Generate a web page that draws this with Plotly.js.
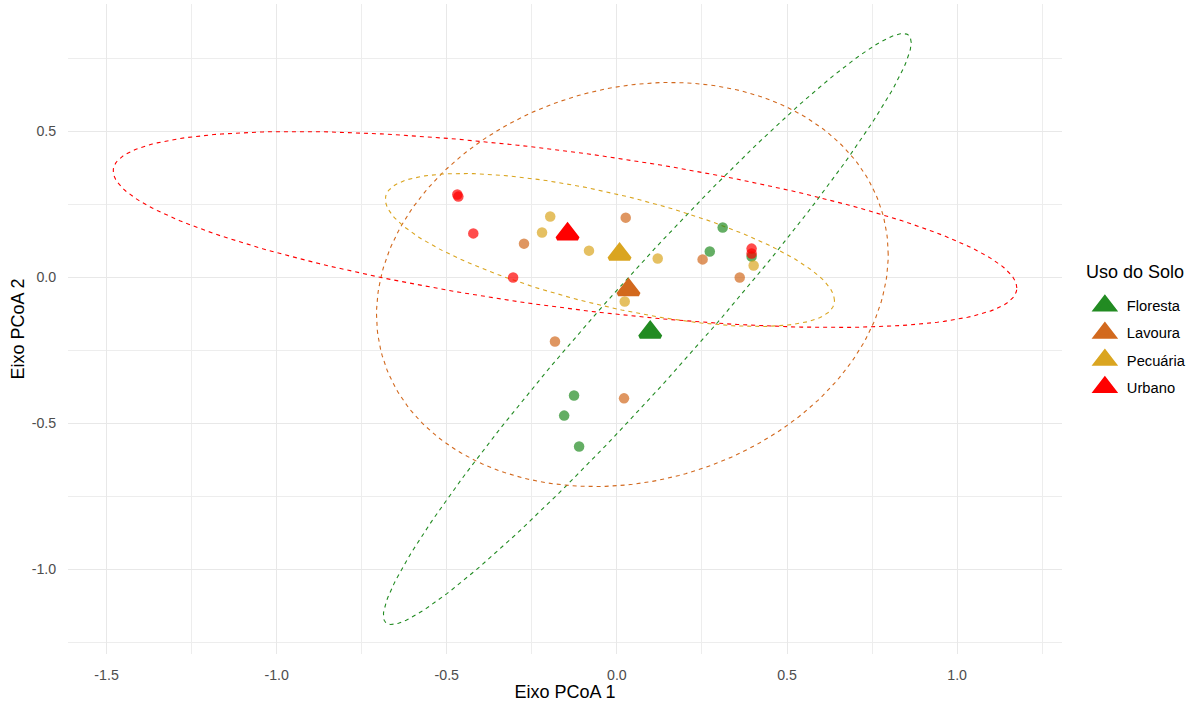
<!DOCTYPE html>
<html>
<head>
<meta charset="utf-8">
<script src="https://cdn.plot.ly/plotly-3.0.1.min.js"></script>
<style>
  html, body { margin: 0; padding: 0; background: #ffffff; }
  #chart { width: 1195px; height: 702px; }
</style>
</head>
<body>
<div id="chart"></div>
<script>
// Land-use groups and their colours
const groups = ['Floresta', 'Lavoura', 'Pecuária', 'Urbano'];
const groupColors = ['#228B22', '#D2691E', '#DAA520', '#FF0000'];

// PCoA scores of each sample (axis 1, axis 2)
const florestaX = [0.311, 0.273, 0.396, -0.126, -0.155, -0.111];
const florestaY = [0.171, 0.089, 0.072, -0.404, -0.473, -0.579];
const lavouraX  = [-0.273, 0.026, 0.252, 0.361, -0.182, 0.021];
const lavouraY  = [0.116, 0.205, 0.062, 0.000, -0.219, -0.414];
const pecuariaX = [-0.196, -0.220, -0.082, 0.120, 0.023, 0.402];
const pecuariaY = [0.209, 0.154, 0.092, 0.065, -0.082, 0.041];
const urbanoX   = [-0.469, -0.466, -0.422, -0.305, 0.396, 0.396];
const urbanoY   = [0.284, 0.277, 0.151, 0.000, 0.099, 0.082];

// Confidence ellipses per group: centre, half-width along axis 1,
// axis-2 offset of the right-most point and half-height along axis 2
const ellipseCx        = [0.0894, 0.0455, -0.0205, -0.1525];
const ellipseCy        = [-0.1764, -0.0240, 0.0942, 0.1644];
const ellipseHalfWidth = [0.7757, 0.752, 0.660, 1.328];
const ellipseYAtXMax   = [0.9812, 0.1027, -0.173, -0.2003];
const ellipseHalfHeight= [1.012, 0.692, 0.262, 0.3356];

// Axis ticks
const xTicks = [-1.5, -1.0, -0.5, 0.0, 0.5, 1.0];
const xTickText = ['-1.5', '-1.0', '-0.5', '0.0', '0.5', '1.0'];
const xMinorTicks = [-1.25, -0.75, -0.25, 0.25, 0.75, 1.25];
const yTicks = [-1.0, -0.5, 0.0, 0.5];
const yTickText = ['-1.0', '-0.5', '0.0', '0.5'];
const yMinorTicks = [-1.25, -0.75, -0.25, 0.25, 0.75];

const scoresX = [florestaX, lavouraX, pecuariaX, urbanoX];
const scoresY = [florestaY, lavouraY, pecuariaY, urbanoY];

function mean(a) { return a.reduce((s, v) => s + v, 0) / a.length; }

function hexToRgba(hex, alpha) {
  const n = parseInt(hex.slice(1), 16);
  return 'rgba(' + ((n >> 16) & 255) + ',' + ((n >> 8) & 255) + ',' + (n & 255) + ',' + alpha + ')';
}

function ellipseOutline(i) {
  const xs = [], ys = [];
  const a = ellipseHalfWidth[i], b = ellipseYAtXMax[i];
  const c = Math.sqrt(ellipseHalfHeight[i] ** 2 - b ** 2);
  const n = 240;
  for (let k = 0; k <= n; k++) {
    const t = 2 * Math.PI * k / n;
    xs.push(ellipseCx[i] + a * Math.cos(t));
    ys.push(ellipseCy[i] + b * Math.cos(t) + c * Math.sin(t));
  }
  return { xs, ys };
}

const traces = [];
const allX = [], allY = [];

// Dashed ellipses
groups.forEach((g, i) => {
  const e = ellipseOutline(i);
  allX.push(...e.xs); allY.push(...e.ys);
  traces.push({
    type: 'scatter', mode: 'lines', x: e.xs, y: e.ys,
    line: { color: groupColors[i], width: 1.1, dash: '4px,4px' },
    hoverinfo: 'skip', showlegend: false
  });
});

// Sample points
groups.forEach((g, i) => {
  traces.push({
    type: 'scatter', mode: 'markers', name: g,
    x: scoresX[i], y: scoresY[i],
    marker: { symbol: 'circle', size: 10.5, color: hexToRgba(groupColors[i], 0.7), line: { width: 0 } },
    showlegend: false
  });
});

// Group centroids
groups.forEach((g, i) => {
  traces.push({
    type: 'scatter', mode: 'markers', name: g, legendgroup: g,
    x: [mean(scoresX[i])], y: [mean(scoresY[i])],
    marker: { symbol: 'triangle-up', size: 18, color: groupColors[i], line: { color: groupColors[i], width: 4 } },
    showlegend: true
  });
});

// Axis limits with 5% padding around the drawn extent
function padded(vals) {
  const lo = Math.min(...vals), hi = Math.max(...vals), p = (hi - lo) * 0.05;
  return [lo - p, hi + p];
}
const xRange = padded(allX);
const yRange = padded(allY);

const fontFamily = 'Liberation Sans, Arial, sans-serif';
const gridColor = '#E8E8E8';
const minorGridColor = '#EDEDED';
const tickFont = { family: fontFamily, size: 14.2, color: '#4D4D4D' };
const titleFont = { family: fontFamily, size: 18, color: '#000000' };

const layout = {
  width: 1195, height: 702,
  paper_bgcolor: '#ffffff', plot_bgcolor: '#ffffff',
  margin: { l: 68, r: 131, t: 4, b: 48 },
  font: { family: fontFamily },
  xaxis: {
    range: xRange, tickvals: xTicks, ticktext: xTickText,
    showgrid: true, gridcolor: gridColor, gridwidth: 1,
    minor: { tickvals: xMinorTicks, showgrid: true, gridcolor: minorGridColor, gridwidth: 1 },
    zeroline: false, showline: false,
    ticks: 'outside', ticklen: 8, tickcolor: 'rgba(0,0,0,0)',
    tickfont: tickFont,
    title: { text: 'Eixo PCoA 1', font: titleFont, standoff: 9 }
  },
  yaxis: {
    range: yRange, tickvals: yTicks, ticktext: yTickText,
    showgrid: true, gridcolor: gridColor, gridwidth: 1,
    minor: { tickvals: yMinorTicks, showgrid: true, gridcolor: minorGridColor, gridwidth: 1 },
    zeroline: false, showline: false,
    ticks: 'outside', ticklen: 8, tickcolor: 'rgba(0,0,0,0)',
    tickfont: tickFont,
    title: { text: 'Eixo PCoA 2', font: titleFont, standoff: 2 }
  },
  showlegend: true,
  legend: {
    x: 1.021, xanchor: 'left', y: 0.473, yanchor: 'middle',
    traceorder: 'grouped', tracegroupgap: 5, itemwidth: 34,
    font: { family: fontFamily, size: 14.7, color: '#000000' },
    bgcolor: 'rgba(0,0,0,0)'
  },
  annotations: [{
    // legend heading
    text: 'Uso do Solo', xref: 'paper', yref: 'paper',
    x: 1.0225, xanchor: 'left', y: 1 - (272 - 4) / 650, yanchor: 'middle',
    showarrow: false, font: titleFont
  }]
};

Plotly.newPlot('chart', traces, layout, { displayModeBar: false, staticPlot: true });
</script>
</body>
</html>
